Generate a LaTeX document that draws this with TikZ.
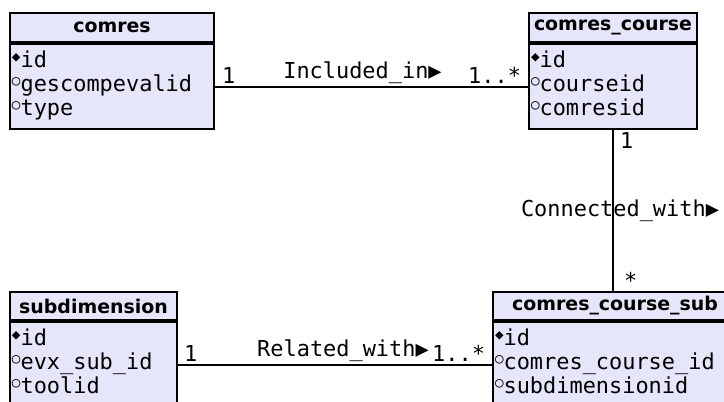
\documentclass[tikz,border=0pt]{standalone}
\usepackage{fontspec}
\setmainfont{DejaVu Sans}
\setmonofont{DejaVu Sans Mono}
\usetikzlibrary{positioning}
\usetikzlibrary{shadows}

\definecolor{classfill}{RGB}{230,230,250}
\newcommand{\pkmark}{\raisebox{0.5ex}{\scalebox{0.65}{◆}}}
\newcommand{\fkmark}{\raisebox{0.5ex}{\scalebox{0.65}{○}}}

\begin{document}
\begin{tikzpicture}[x=1bp, y=-1bp]
    \tikzset{
        classhead/.style={draw, line width=2bp, fill=classfill, inner sep=0pt,
            drop shadow={shadow xshift=1bp, shadow yshift=-1bp, fill=black, opacity=1},
            font=\fontsize{19}{20}\bfseries\selectfont},
        classbody/.style={draw, line width=2bp, fill=classfill, inner xsep=2bp, inner ysep=0pt,
            text height=23bp, text depth=62bp, align=left,
            drop shadow={shadow xshift=1bp, shadow yshift=-1bp, fill=black, opacity=1},
            font=\fontsize{22}{24.5}\ttfamily\selectfont},
        relation/.style={line width=2bp},
        mult/.style={font=\fontsize{22}{24}\ttfamily\selectfont, inner sep=2bp}
    }
    \useasboundingbox (0,0) rectangle (724,401);
    \clip (0,0) rectangle (724,401);

    % classes
    \node [classhead, minimum width=204bp, minimum height=29bp] (comres) at (112,27.5) {comres};
    \node [classbody, text width=200bp, below=0pt of comres] (comresattr)
        {\pkmark id\\\fkmark gescompevalid\\\fkmark type};

    \node [classhead, minimum width=168bp, minimum height=29bp] (course) at (613,27.5) {comres\_course};
    \node [classbody, text width=164bp, below=0pt of course] (courseattr)
        {\pkmark id\\\fkmark courseid\\\fkmark comresid};

    \node [classhead, minimum width=167bp, minimum height=28bp] (subdim) at (93.5,306) {subdimension};
    \node [classbody, text width=163bp, below=0pt of subdim] (subdimattr)
        {\pkmark id\\\fkmark evx\_sub\_id\\\fkmark toolid};

    \node [classhead, minimum width=244bp, minimum height=28bp] (coursesub) at (615,306) {comres\_course\_sub};
    \node [classbody, text width=240bp, below=0pt of coursesub] (coursesubattr)
        {\pkmark id\\\fkmark comres\_course\_id\\\fkmark subdimensionid};

    % relations
    \draw [relation] (comresattr) --
        node [mult, pos=0, above right, xshift=4bp] {1}
        node [mult, midway, above, xshift=-9bp] {Included\_in▶}
        node [mult, pos=1, above left, xshift=-4bp] {1..*}
        (courseattr);

    \draw [relation] (courseattr.south) --
        node [mult, pos=0, below right, xshift=4bp] {1}
        node [mult, midway, xshift=7bp] {Connected\_with▶}
        node [mult, pos=1, above right, xshift=8bp] {*}
        (courseattr.south |- coursesub.north);

    \draw [relation] (subdimattr) --
        node [mult, pos=0, above right, xshift=3bp] {1}
        node [mult, midway, above, xshift=8bp] {Related\_with▶}
        node [mult, pos=1, above left, xshift=-4bp] {1..*}
        (coursesubattr);
\end{tikzpicture}
\end{document}
